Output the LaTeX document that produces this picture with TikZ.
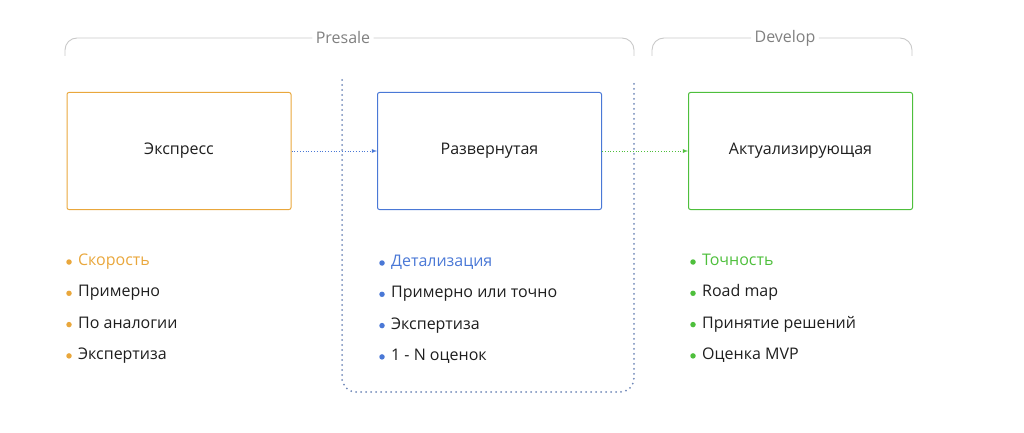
\documentclass[tikz,border=0pt]{standalone}
\usepackage{fontspec}
\setmainfont{Open Sans}
\usetikzlibrary{positioning}
\definecolor{cOrange}{HTML}{E9A73C}
\definecolor{cBlue}{HTML}{4A78D6}
\definecolor{cGreen}{HTML}{4EBF3C}
\definecolor{cGray}{HTML}{C9C9C9}
\definecolor{cText}{HTML}{1E1E1E}
\definecolor{cFrame}{HTML}{7088B8}
\tikzset{
  stage/.style={draw=#1, line width=1pt, rounded corners=2pt, minimum width=224pt, minimum height=117pt, font=\fontsize{16}{18}\selectfont, text=cText},
  item/.style={anchor=west, font=\fontsize{16}{18}\selectfont, text=cText, inner sep=0pt, text height=11pt, text depth=4pt},
  dot/.style={circle, fill=#1, inner sep=0pt, minimum size=5.5pt},
  link/.style={->, >=latex, dotted, line width=0.8pt, draw=#1},
  brace/.style={cGray, line width=0.9pt, rounded corners=12pt}
}
\begin{document}
\begin{tikzpicture}[x=1pt, y=-1pt]
\useasboundingbox (0,0) rectangle (1024,433);
% stages
\node [stage=cOrange] (express) at (179,151) {Экспресс};
\node [stage=cBlue] (detail) at (489.5,151) {Развернутая};
\node [stage=cGreen] (actual) at (800.5,151) {Актуализирующая};
% links
\draw [link=cBlue] (express) -- (detail);
\draw [link=cGreen] (detail) -- (actual);
% phase brackets
\node [text=gray, font=\fontsize{16}{18}\selectfont] (presale) at (343,38) {Presale};
\node [text=gray, font=\fontsize{16}{18}\selectfont] (develop) at (785,38) {Develop};
\draw [brace] (65,56) |- (presale.west);
\draw [brace] (presale.east) -| (634,56);
\draw [brace] (652,56) |- (develop.west);
\draw [brace] (develop.east) -| (912,56);
% presale frame
\draw [cFrame, line width=2pt, line cap=round, dash pattern=on 0pt off 5pt, rounded corners=14pt] (342,80) -- (342,392) -- (634,392) -- (634,80);
% lists
\node [dot=cOrange] (od0) at (69,262) {};
\node [item, text=cOrange, right=6pt of od0] (ot0) {Скорость};
\foreach \txt [count=\i] in {Примерно, По аналогии, Экспертиза} {
  \node [dot=cOrange] (od\i) at (69,{262+31.3*\i}) {};
  \node [item, right=6pt of od\i] (ot\i) {\txt};
}
\node [dot=cBlue] (bd0) at (382,263) {};
\node [item, text=cBlue, right=6pt of bd0] (bt0) {Детализация};
\foreach \txt [count=\i] in {Примерно или точно, Экспертиза, 1 - N оценок} {
  \node [dot=cBlue] (bd\i) at (382,{263+31.3*\i}) {};
  \node [item, right=6pt of bd\i] (bt\i) {\txt};
}
\node [dot=cGreen] (gd0) at (693,262) {};
\node [item, text=cGreen, right=6pt of gd0] (gt0) {Точность};
\foreach \txt [count=\i] in {Road map, Принятие решений, Оценка MVP} {
  \node [dot=cGreen] (gd\i) at (693,{262+31.3*\i}) {};
  \node [item, right=6pt of gd\i] (gt\i) {\txt};
}
\end{tikzpicture}
\end{document}
